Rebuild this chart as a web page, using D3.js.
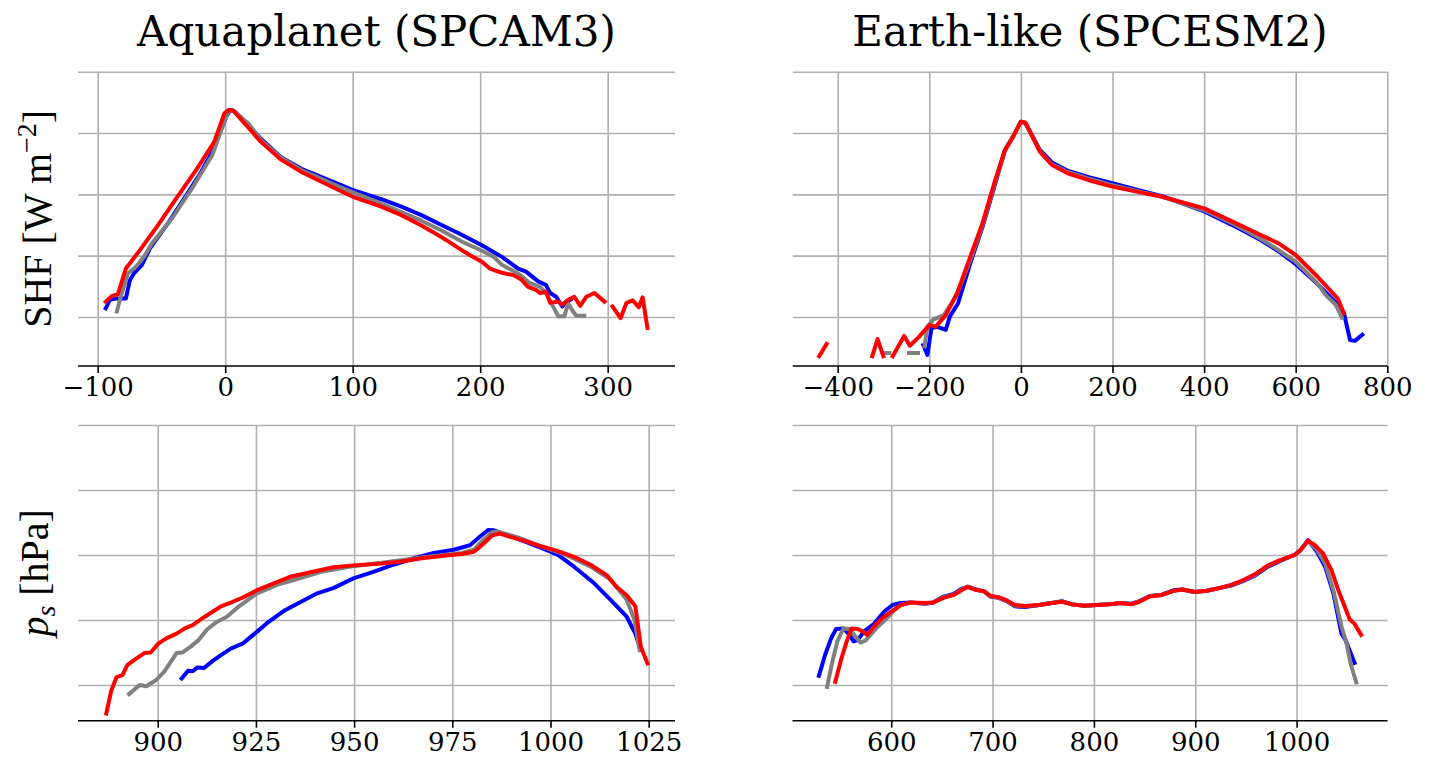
<!DOCTYPE html>
<html><head><meta charset="utf-8">
<script src="https://cdn.jsdelivr.net/npm/d3@7"></script>
<style>body{margin:0;background:#fff}svg{display:block}</style>
</head><body><svg id="c" width="1433" height="767"></svg>
<script>
// ---- tick labels (x axes) ----
const aquaShfTicks = [-100, 0, 100, 200, 300];
const earthShfTicks = [-400, -200, 0, 200, 400, 600, 800];
const aquaPsTicks = [900, 925, 950, 975, 1000, 1025];
const earthPsTicks = [600, 700, 800, 900, 1000];
const densityTicks = [-5, -4, -3, -2, -1]; // log10 density (labels hidden)

// ---- series: [x value, log10 density]; null = empty bin ----
const aquaShfBlue = [[-93.7,-4.86],[-90.5,-4.72],[-85.8,-4.70],[-77.9,-4.70],[-74.8,-4.40],[-71.6,-4.29],[-65.3,-4.15],[-59.0,-3.88],[-44.8,-3.47],[-32.2,-3.07],[-19.6,-2.66],[-8.5,-2.25],[-3.8,-1.98],[0.9,-1.73],[4.1,-1.625],[7.3,-1.65],[18.3,-1.87],[27.8,-2.09],[43.5,-2.39],[59.3,-2.58],[90.9,-2.85],[100.3,-2.93],[122.4,-3.08],[138.2,-3.20],[153.9,-3.34],[169.7,-3.50],[185.5,-3.66],[201.3,-3.83],[217.0,-4.02],[229.7,-4.21],[236.0,-4.26],[245.5,-4.42],[251.7,-4.48],[254.9,-4.61],[259.6,-4.67],[264.4,-4.83],[267.5,-4.75],[270.7,-4.72]];
const aquaShfGray = [[-84.9,-4.91],[-82.6,-4.72],[-76.3,-4.29],[-70.0,-4.18],[-63.7,-4.02],[-57.4,-3.80],[-41.6,-3.39],[-25.9,-2.90],[-10.1,-2.36],[-3.8,-1.98],[2.5,-1.65],[5.7,-1.625],[18.3,-1.85],[27.8,-2.11],[43.5,-2.40],[59.3,-2.60],[90.9,-2.89],[122.4,-3.15],[153.9,-3.43],[169.7,-3.59],[185.5,-3.77],[201.3,-3.92],[210.7,-4.02],[217.0,-4.15],[229.7,-4.29],[239.1,-4.45],[247.0,-4.51],[251.7,-4.61],[256.5,-4.80],[261.2,-4.99],[265.9,-4.99],[269.1,-4.78],[272.2,-4.89],[275.4,-4.98],[281.7,-4.98]];
const aquaShfRed = [[-93.7,-4.75],[-89.0,-4.66],[-84.2,-4.63],[-77.9,-4.21],[-66.9,-3.91],[-54.3,-3.55],[-38.5,-3.07],[-22.7,-2.60],[-8.5,-2.14],[-4.4,-1.90],[-0.6,-1.68],[2.5,-1.625],[6.3,-1.636],[15.1,-1.84],[27.8,-2.14],[43.5,-2.43],[59.3,-2.63],[75.1,-2.79],[90.9,-2.95],[100.3,-3.04],[122.4,-3.20],[138.2,-3.34],[153.9,-3.51],[166.6,-3.66],[172.9,-3.74],[185.5,-3.91],[191.8,-3.99],[201.3,-4.10],[207.6,-4.21],[217.0,-4.28],[226.5,-4.32],[232.8,-4.40],[237.5,-4.51],[243.8,-4.56],[247.0,-4.61],[251.7,-4.59],[254.9,-4.77],[261.2,-4.75],[264.4,-4.80],[269.1,-4.72],[273.8,-4.67],[278.5,-4.82],[283.3,-4.67],[289.6,-4.61],[297.5,-4.75],[300.6,null],[303.8,-4.83],[310.1,-5.02],[314.8,-4.77],[319.6,-4.73],[324.3,-4.84],[327.4,-4.68],[331.2,-5.18]];

const earthShfBlue = [[-213.1,-5.46],[-204.2,-5.62],[-195.3,-5.18],[-181.9,-5.16],[-164.1,-5.21],[-155.1,-4.99],[-137.3,-4.78],[-110.6,-4.125],[-83.8,-3.53],[-57.1,-2.85],[-34.8,-2.28],[-16.9,-2.05],[0,-1.815],[9.8,-1.84],[23.2,-2.02],[41.0,-2.27],[67.8,-2.48],[103.4,-2.62],[148.0,-2.72],[199.7,-2.82],[255.0,-2.93],[308.5,-3.03],[400.4,-3.28],[469.0,-3.53],[522.5,-3.74],[562.6,-3.93],[600.1,-4.14],[647.3,-4.46],[691.9,-4.80],[705.3,-4.94],[718.7,-5.375],[729.4,-5.39],[745.4,-5.29]];
const earthShfGray = [[-297.8,-5.59],[-287.1,-5.59],[-265,null],[-244.3,-5.59],[-224.7,-5.59],[-217,null],[-210.4,-5.48],[-204.2,-5.16],[-190.8,-5.04],[-168.5,-4.97],[-141.8,-4.67],[-110.6,-4.07],[-83.8,-3.50],[-57.1,-2.82],[-34.8,-2.27],[-16.9,-2.05],[0,-1.815],[9.8,-1.83],[23.2,-2.03],[41.0,-2.29],[67.8,-2.51],[103.4,-2.64],[148.0,-2.745],[199.7,-2.85],[255.0,-2.95],[308.5,-3.04],[400.4,-3.26],[469.0,-3.50],[522.5,-3.72],[562.6,-3.91],[600.1,-4.10],[647.3,-4.45],[665.1,-4.64],[687.4,-4.80],[700.8,-5.01]];
const earthShfRed = [[-440.5,-5.64],[-424.4,-5.44],[-400,null],[-324.6,-5.64],[-313.0,-5.36],[-300.5,-5.64],[-290,null],[-280.0,-5.64],[-255.0,-5.31],[-242.5,-5.47],[-222.0,-5.32],[-199.7,-5.13],[-186.3,-5.16],[-164.1,-4.97],[-139.1,-4.61],[-110.6,-4.02],[-83.8,-3.47],[-57.1,-2.79],[-34.8,-2.28],[-16.9,-2.06],[0,-1.815],[9.8,-1.83],[23.2,-2.03],[41.0,-2.30],[67.8,-2.52],[103.4,-2.66],[148.0,-2.77],[199.7,-2.875],[255.0,-2.96],[308.5,-3.04],[400.4,-3.23],[469.0,-3.47],[522.5,-3.66],[562.6,-3.80],[600.1,-3.99],[647.3,-4.34],[691.9,-4.70],[705.3,-4.94]];

const aquaPsBlue = [[906.1,-4.90],[907.7,-4.78],[908.9,-4.79],[910.1,-4.73],[911.8,-4.74],[914.0,-4.63],[916.1,-4.54],[918.6,-4.44],[921.7,-4.36],[925.3,-4.18],[927.8,-4.05],[932.4,-3.85],[936.5,-3.72],[940.6,-3.59],[944.7,-3.51],[949.8,-3.36],[954.9,-3.26],[960.0,-3.15],[965.2,-3.05],[970.3,-2.97],[975.4,-2.92],[979.5,-2.85],[982.0,-2.72],[984.1,-2.615],[985.6,-2.62],[990.7,-2.73],[996.8,-2.87],[1001.9,-3.00],[1006.0,-3.18],[1011.2,-3.44],[1015.3,-3.69],[1019.4,-3.95],[1021.6,-4.21],[1023.0,-4.46]];
const aquaPsGray = [[892.7,-5.14],[895.4,-5.00],[897.1,-5.02],[899.7,-4.92],[901.7,-4.79],[904.8,-4.51],[906.3,-4.50],[908.4,-4.41],[910.4,-4.31],[912.5,-4.15],[915.0,-4.03],[917.6,-3.95],[920.7,-3.79],[925.3,-3.59],[930.4,-3.46],[935.5,-3.37],[941.6,-3.26],[948.8,-3.18],[957.0,-3.12],[967.2,-3.04],[977.4,-2.97],[980.5,-2.92],[982.5,-2.79],[985.1,-2.65],[986.6,-2.64],[991.7,-2.73],[997.8,-2.87],[1004.0,-3.00],[1010.2,-3.18],[1015.3,-3.38],[1019.4,-3.69],[1021.4,-4.00],[1022.7,-4.46]];
const aquaPsRed = [[886.9,-5.44],[888.2,-5.08],[889.5,-4.88],[891.0,-4.85],[892.3,-4.69],[894.6,-4.59],[896.6,-4.51],[898.2,-4.50],[900.2,-4.36],[902.3,-4.28],[904.8,-4.21],[906.9,-4.13],[908.9,-4.08],[912.0,-3.95],[916.1,-3.79],[919.1,-3.72],[922.2,-3.64],[925.3,-3.54],[929.4,-3.44],[934.0,-3.33],[938.6,-3.27],[944.7,-3.19],[949.8,-3.16],[957.0,-3.13],[962.1,-3.10],[967.2,-3.05],[972.3,-3.015],[977.4,-2.985],[980.5,-2.95],[982.5,-2.85],[985.1,-2.70],[987.1,-2.67],[989.7,-2.72],[993.8,-2.79],[997.8,-2.87],[1001.9,-2.94],[1006.0,-3.03],[1010.2,-3.15],[1014.3,-3.31],[1016.8,-3.49],[1019.4,-3.62],[1021.6,-3.79],[1023.0,-4.41],[1024.7,-4.67]];

const earthPsBlue = [[528.7,-4.86],[534.7,-4.54],[540.8,-4.28],[545.6,-4.14],[552.9,-4.13],[558.9,-4.23],[562.9,-4.33],[567.0,-4.31],[573.0,-4.18],[583.1,-4.06],[593.2,-3.87],[601.2,-3.77],[609.3,-3.74],[619.3,-3.73],[633.4,-3.75],[641.5,-3.73],[651.6,-3.64],[661.6,-3.60],[669.7,-3.52],[675.7,-3.49],[683.8,-3.53],[691.8,-3.56],[697.9,-3.64],[705.9,-3.66],[714.0,-3.71],[722.1,-3.79],[732.1,-3.80],[746.2,-3.77],[758.3,-3.74],[768.4,-3.71],[778.5,-3.76],[790.5,-3.78],[802.6,-3.77],[814.7,-3.76],[826.8,-3.74],[836.9,-3.75],[844.9,-3.71],[855.0,-3.63],[867.1,-3.61],[879.2,-3.54],[887.2,-3.53],[899.3,-3.57],[911.4,-3.55],[923.5,-3.51],[935.6,-3.47],[947.6,-3.40],[959.7,-3.31],[971.8,-3.18],[983.9,-3.09],[998.0,-3.00],[1004.0,-2.93],[1011.3,-2.77],[1020.1,-2.95],[1028.2,-3.18],[1036.3,-3.59],[1044.3,-4.21],[1048.3,-4.31],[1057.2,-4.66]];
const earthPsGray = [[536.8,-5.03],[540.8,-4.72],[546.8,-4.33],[552.9,-4.13],[558.9,-4.14],[565.0,-4.26],[569.8,-4.35],[575.0,-4.31],[585.1,-4.13],[597.2,-3.95],[603.2,-3.85],[609.3,-3.77],[619.3,-3.735],[633.4,-3.745],[641.5,-3.735],[651.6,-3.65],[661.6,-3.61],[669.7,-3.53],[675.7,-3.485],[683.8,-3.535],[691.8,-3.56],[697.9,-3.635],[705.9,-3.655],[714.0,-3.705],[722.1,-3.78],[732.1,-3.79],[746.2,-3.77],[758.3,-3.74],[768.4,-3.715],[778.5,-3.76],[790.5,-3.78],[802.6,-3.77],[814.7,-3.76],[826.8,-3.74],[836.9,-3.755],[844.9,-3.715],[855.0,-3.635],[867.1,-3.615],[879.2,-3.55],[887.2,-3.53],[899.3,-3.57],[911.4,-3.55],[923.5,-3.51],[935.6,-3.465],[947.6,-3.39],[959.7,-3.30],[971.8,-3.165],[983.9,-3.085],[998.0,-3.00],[1004.0,-2.925],[1011.3,-2.78],[1020.1,-2.92],[1028.2,-3.13],[1036.3,-3.54],[1044.3,-4.10],[1049.1,-4.35],[1053.6,-4.69],[1058.9,-4.96]];
const earthPsRed = [[544.8,-4.95],[550.9,-4.59],[556.1,-4.33],[560.9,-4.13],[566.9,-4.14],[572.2,-4.18],[576.2,-4.23],[583.1,-4.10],[591.1,-3.97],[601.2,-3.86],[609.3,-3.77],[619.3,-3.73],[633.4,-3.74],[641.5,-3.73],[651.6,-3.66],[661.6,-3.615],[669.7,-3.54],[675.7,-3.49],[683.8,-3.54],[691.8,-3.56],[697.9,-3.63],[705.9,-3.65],[714.0,-3.70],[722.1,-3.77],[732.1,-3.785],[746.2,-3.77],[758.3,-3.74],[768.4,-3.72],[778.5,-3.76],[790.5,-3.78],[802.6,-3.77],[814.7,-3.76],[826.8,-3.74],[836.9,-3.76],[844.9,-3.72],[855.0,-3.64],[867.1,-3.615],[879.2,-3.55],[887.2,-3.53],[899.3,-3.57],[911.4,-3.55],[923.5,-3.51],[935.6,-3.46],[947.6,-3.385],[959.7,-3.29],[971.8,-3.16],[983.9,-3.08],[998.0,-3.00],[1004.0,-2.92],[1011.3,-2.78],[1018.1,-2.85],[1026.2,-2.98],[1034.3,-3.23],[1042.3,-3.59],[1052.4,-3.99],[1057.2,-4.06],[1063.7,-4.23]];

const seriesColors = ['#0000ff', '#808080', '#ff0000'];

const svg = d3.select('#c');
const fmt = v => (v < 0 ? '\u2212' + Math.abs(v) : String(v));

const panels = [
  {title: 'Aquaplanet (SPCAM3)', left: 78, right: 675, top: 71.7, bottom: 366, xd: [-115.45, 352.8], yd: [-5.8, -1], ticks: aquaShfTicks, data: [aquaShfBlue, aquaShfGray, aquaShfRed], ylabel: 'shf'},
  {title: 'Earth-like (SPCESM2)', left: 792.7, right: 1387.3, top: 71.7, bottom: 366, xd: [-498.3, 800], yd: [-5.8, -1], ticks: earthShfTicks, data: [earthShfBlue, earthShfGray, earthShfRed]},
  {left: 78, right: 675, top: 425, bottom: 720.7, xd: [879.7, 1031.7], yd: [-5.55, -1], ticks: aquaPsTicks, data: [aquaPsBlue, aquaPsGray, aquaPsRed], ylabel: 'ps'},
  {left: 792.5, right: 1387.6, top: 425, bottom: 720.7, xd: [502.6, 1089.8], yd: [-5.55, -1], ticks: earthPsTicks, data: [earthPsBlue, earthPsGray, earthPsRed]}
];

panels.forEach(p => {
  const x = d3.scaleLinear().domain(p.xd).range([p.left, p.right]);
  const y = d3.scaleLinear().domain(p.yd).range([p.bottom, p.top]);
  const g = svg.append('g');

  // gridlines
  g.append('g').attr('transform', `translate(0,${p.bottom})`)
    .call(d3.axisBottom(x).tickValues(p.ticks).tickSize(-(p.bottom - p.top)).tickFormat(''))
    .call(s => s.select('.domain').remove())
    .call(s => s.selectAll('line').attr('stroke', '#b0b0b0').attr('stroke-width', 1.6));
  g.append('g').attr('transform', `translate(${p.left},0)`)
    .call(d3.axisLeft(y).tickValues(densityTicks).tickSize(-(p.right - p.left)).tickFormat(''))
    .call(s => s.select('.domain').remove())
    .call(s => s.selectAll('line').attr('stroke', '#b0b0b0').attr('stroke-width', 1.6));

  // curves
  const line = d3.line().defined(d => d[1] !== null).x(d => x(d[0])).y(d => y(d[1]));
  p.data.forEach((ser, i) => {
    g.append('path').datum(ser).attr('d', line)
      .attr('fill', 'none').attr('stroke', seriesColors[i]).attr('stroke-width', 4)
      .attr('stroke-linejoin', 'round').attr('stroke-linecap', 'square');
  });

  // bottom axis
  const ax = g.append('g').attr('transform', `translate(0,${p.bottom})`)
    .call(d3.axisBottom(x).tickValues(p.ticks).tickSize(7).tickPadding(5).tickFormat(fmt));
  ax.select('.domain').attr('stroke', '#000').attr('stroke-width', 1.6).attr('d', `M${p.left},0H${p.right}`);
  ax.selectAll('.tick line').attr('stroke', '#000').attr('stroke-width', 1.6);
  ax.selectAll('.tick text').attr('font-family', 'DejaVu Serif').attr('font-size', 26).attr('fill', '#000').attr('dy', '0.71em');

  if (p.title) {
    svg.append('text').attr('x', (p.left + p.right) / 2).attr('y', 46)
      .attr('text-anchor', 'middle').attr('font-family', 'DejaVu Serif').attr('font-size', 42).attr('fill', '#000')
      .text(p.title);
  }
  const cy = (p.top + p.bottom) / 2;
  if (p.ylabel === 'shf') {
    const t = svg.append('text').attr('transform', `translate(51,${cy}) rotate(-90)`)
      .attr('text-anchor', 'middle').attr('font-family', 'Liberation Serif').attr('font-size', 40).attr('fill', '#000');
    t.append('tspan').text('SHF [W m');
    t.append('tspan').attr('dy', -15).attr('font-size', 28).text('\u22122');
    t.append('tspan').attr('dy', 15).text(']');
  }
  if (p.ylabel === 'ps') {
    const t = svg.append('text').attr('transform', `translate(48,${cy}) rotate(-90)`)
      .attr('text-anchor', 'middle').attr('font-family', 'Liberation Serif').attr('font-size', 40).attr('fill', '#000');
    t.append('tspan').attr('font-style', 'italic').text('p');
    t.append('tspan').attr('font-style', 'italic').attr('font-size', 28).attr('dy', 7).text('s');
    t.append('tspan').attr('dy', -7).text(' [hPa]');
  }
});
</script>
</body></html>
